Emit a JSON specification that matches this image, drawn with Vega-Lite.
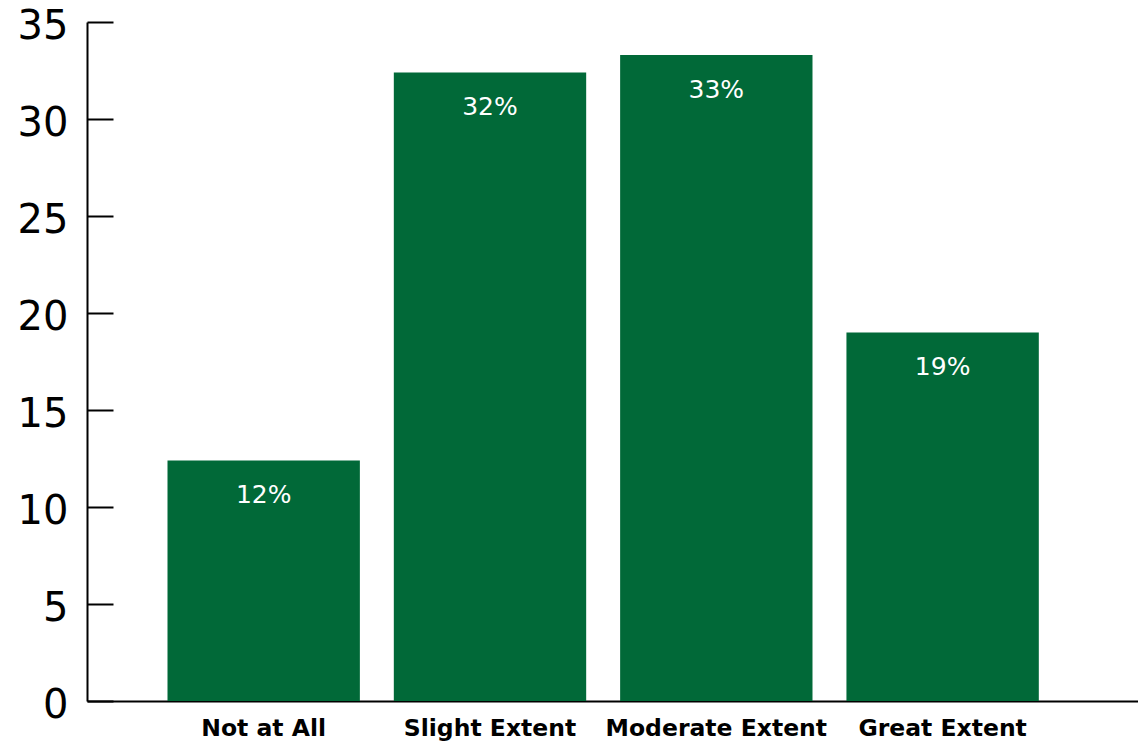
{
  "$schema": "https://vega.github.io/schema/vega-lite/v6.json",
  "width": 1051,
  "height": 679,
  "autosize": "none",
  "padding": {"left": 87, "top": 22, "right": 0, "bottom": 45},
  "background": "white",
  "config": {"view": {"stroke": null}},
  "data": {
    "values": [
      {"category": "Not at All", "value": 12.4, "label": "12%"},
      {"category": "Slight Extent", "value": 32.4, "label": "32%"},
      {"category": "Moderate Extent", "value": 33.3, "label": "33%"},
      {"category": "Great Extent", "value": 19.0, "label": "19%"}
    ]
  },
  "encoding": {
    "x": {
      "field": "category",
      "type": "nominal",
      "sort": null,
      "scale": {"paddingInner": 0.15, "paddingOuter": 0.397, "align": 0.448},
      "axis": {
        "title": null,
        "labelAngle": 0,
        "ticks": false,
        "labelPadding": 15,
        "labelLimit": 0,
        "labelFont": "DejaVu Sans",
        "labelFontSize": 23.5,
        "labelFontWeight": "bold",
        "labelColor": "#000000",
        "domainColor": "#000000",
        "domainWidth": 2,
        "grid": false
      }
    },
    "y": {
      "field": "value",
      "type": "quantitative",
      "scale": {"domain": [0, 35], "nice": false},
      "axis": {
        "title": null,
        "values": [0, 5, 10, 15, 20, 25, 30, 35],
        "tickSize": -26,
        "tickWidth": 2,
        "tickColor": "#000000",
        "domainColor": "#000000",
        "domainWidth": 2,
        "labelPadding": 45,
        "labelOffset": 4,
        "labelFont": "DejaVu Sans",
        "labelFontSize": 40,
        "labelFontWeight": "normal",
        "labelColor": "#000000",
        "grid": false
      }
    }
  },
  "layer": [
    {"mark": {"type": "bar", "color": "#016938"}},
    {
      "mark": {"type": "text", "color": "#ffffff", "font": "DejaVu Sans", "fontSize": 25, "fontWeight": "normal", "baseline": "middle", "dy": 35},
      "encoding": {"text": {"field": "label"}}
    }
  ]
}
